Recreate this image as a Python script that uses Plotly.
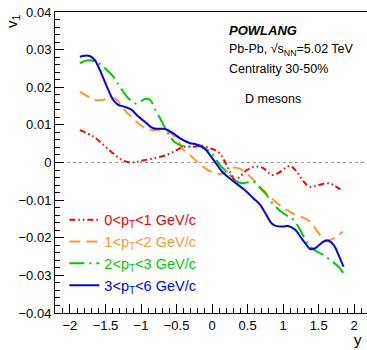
import plotly.graph_objects as go

# ---------------- data ----------------
red_x = [-1.86, -1.67, -1.53, -1.39, -1.25, -1.13, -1.01, -0.83, -0.64, -0.50, -0.40, -0.26, -0.145,
         -0.03, 0.04, 0.11, 0.18, 0.25, 0.32, 0.39, 0.49, 0.61, 0.72, 0.84, 0.93, 1.03, 1.10, 1.19,
         1.29, 1.37, 1.50, 1.62, 1.71, 1.83]
red_y = [0.0086, 0.0069, 0.0047, 0.0024, 0.0005, 0.0000, 0.0004, 0.0011, 0.0020, 0.0033, 0.0042,
         0.0042, 0.0045, 0.0038, 0.0033, 0.0024, 0.0002, -0.0024, -0.0046, -0.0038, -0.0020, -0.0011,
         -0.0015, -0.0033, -0.0028, -0.0015, -0.0009, -0.0024, -0.0051, -0.0064, -0.0060, -0.0055,
         -0.0060, -0.0075]

orange_x = [-1.86, -1.74, -1.65, -1.55, -1.44, -1.37, -1.30, -1.23, -1.13, -1.01, -0.87, -0.66, -0.55,
            -0.47, -0.40, -0.31, -0.19, -0.10, 0.02, 0.14, 0.22, 0.30, 0.37, 0.46, 0.56, 0.72, 0.89,
            1.05, 1.19, 1.30, 1.38, 1.50, 1.59, 1.66, 1.71, 1.78, 1.84]
orange_y = [0.0188, 0.0175, 0.0166, 0.0166, 0.0171, 0.0170, 0.0158, 0.0140, 0.0120, 0.0100, 0.0086,
            0.0086, 0.0073, 0.0055, 0.0033, 0.0020, -0.0002, -0.0015, -0.0027, -0.0030, -0.0022,
            -0.0014, -0.0015, -0.0024, -0.0042, -0.0073, -0.0104, -0.0126, -0.0140, -0.0148, -0.0157,
            -0.0188, -0.0206, -0.0206, -0.0202, -0.0193, -0.0184]

green_x = [-1.86, -1.74, -1.60, -1.48, -1.39, -1.32, -1.25, -1.18, -1.08, -1.00, -0.94, -0.87, -0.80,
           -0.73, -0.66, -0.59, -0.52, -0.38, -0.28, -0.19, -0.10, 0.0, 0.11, 0.23, 0.33, 0.42, 0.58,
           0.66, 0.75, 0.84, 1.00, 1.15, 1.29, 1.36, 1.46, 1.57, 1.66, 1.78, 1.85]
green_y = [0.0264, 0.0272, 0.0264, 0.0246, 0.0228, 0.0208, 0.0188, 0.0171, 0.0157, 0.0163, 0.0169,
           0.0166, 0.0140, 0.0117, 0.0091, 0.0069, 0.0053, 0.0042, 0.0043, 0.0047, 0.0038, 0.0024,
           -0.0007, -0.0029, -0.0048, -0.0055, -0.0051, -0.0065, -0.0082, -0.0106, -0.0135, -0.0153,
           -0.0197, -0.0219, -0.0235, -0.0246, -0.0259, -0.0277, -0.0295]

blue_x = [-1.86, -1.79, -1.72, -1.65, -1.55, -1.46, -1.39, -1.32, -1.23, -1.13, -1.06, -0.92, -0.83,
          -0.66, -0.55, -0.45, -0.31, -0.22, -0.10, 0.02, 0.14, 0.28, 0.46, 0.58, 0.68, 0.75, 0.84,
          0.91, 1.00, 1.07, 1.17, 1.26, 1.33, 1.38, 1.45, 1.57, 1.64, 1.71, 1.78, 1.85]
blue_y = [0.0281, 0.0284, 0.0283, 0.0272, 0.0233, 0.0193, 0.0166, 0.0153, 0.0148, 0.0140, 0.0126,
          0.0104, 0.0091, 0.0089, 0.0078, 0.0064, 0.0051, 0.0048, 0.0036, 0.0007, -0.0024, -0.0047,
          -0.0073, -0.0095, -0.0113, -0.0135, -0.0162, -0.0169, -0.0170, -0.0169, -0.0179, -0.0202,
          -0.0219, -0.0230, -0.0228, -0.0210, -0.0208, -0.0219, -0.0246, -0.0277]

labels = ["0<p<sub>T</sub><1 GeV/c", "1<p<sub>T</sub><2 GeV/c",
          "2<p<sub>T</sub><3 GeV/c", "3<p<sub>T</sub><6 GeV/c"]
colors = ["#ff0000", "#ff9933", "#00cc00", "#0000ff"]
dashes = ["6px,3px,1.5px,3px,1.5px,3px", "11px,6px", "15px,5px,2px,5px", "solid"]

FONT = "Liberation Sans, Arial, Helvetica, sans-serif"

fig = go.Figure()
series = [(red_x, red_y), (orange_x, orange_y), (green_x, green_y), (blue_x, blue_y)]
for (xs, ys), lab, col, dsh in zip(series, labels, colors, dashes):
    fig.add_trace(go.Scatter(
        x=xs, y=ys, mode="lines",
        line=dict(color=col, width=2, dash=dsh, shape="spline", smoothing=1.0),
        name=f'<span style="color:{col}">{lab}</span>',
    ))

# zero reference line
fig.add_shape(type="line", xref="paper", yref="y", x0=0, x1=1, y0=0, y1=0,
              line=dict(color="#999999", width=1, dash="dot"), layer="below")

fig.update_layout(
    width=367, height=350,
    margin=dict(l=55, r=0, t=12, b=37),
    paper_bgcolor="white", plot_bgcolor="white",
    font=dict(family=FONT, color="black", size=13),
    showlegend=True,
    legend=dict(x=0.03, y=0.363, xanchor="left", yanchor="top",
                bgcolor="rgba(0,0,0,0)", font=dict(size=14.5, family=FONT),
                traceorder="normal", itemwidth=30),
)
fig.update_xaxes(
    range=[-2.21, 2.18], showgrid=False, zeroline=False,
    showline=True, linecolor="black", linewidth=1, mirror=True,
    ticks="inside", ticklen=9, tickcolor="black", dtick=0.5, tick0=0,
    minor=dict(ticks="inside", ticklen=5, dtick=0.1, tickcolor="black"),
    tickfont=dict(size=13),
)
fig.update_yaxes(
    range=[-0.04, 0.04], showgrid=False, zeroline=False,
    showline=True, linecolor="black", linewidth=1, mirror=False,
    ticks="inside", ticklen=9, tickcolor="black", dtick=0.01, tick0=0,
    minor=dict(ticks="inside", ticklen=5, dtick=0.002, tickcolor="black"),
    tickfont=dict(size=13),
)

# axis titles
fig.add_annotation(text="v<sub>1</sub>", xref="paper", yref="paper", x=-0.138, y=1.0,
                   xanchor="center", yanchor="top", textangle=-90, showarrow=False,
                   font=dict(size=15))
fig.add_annotation(text="y", xref="paper", yref="paper", x=0.97, y=-0.088,
                   xanchor="center", yanchor="middle", showarrow=False, font=dict(size=15))

# text block
fig.add_annotation(text="<b><i>POWLANG</i></b>", xref="paper", yref="paper",
                   x=0.55, y=0.94, xanchor="left", yanchor="middle", showarrow=False,
                   font=dict(size=13))
fig.add_annotation(text="Pb-Pb, √s<sub>NN</sub>=5.02 TeV", xref="paper", yref="paper",
                   x=0.55, y=0.873, xanchor="left", yanchor="middle", showarrow=False,
                   font=dict(size=12.5))
fig.add_annotation(text="Centrality 30-50%", xref="paper", yref="paper",
                   x=0.55, y=0.81, xanchor="left", yanchor="middle", showarrow=False,
                   font=dict(size=12.5))
fig.add_annotation(text="D mesons", xref="paper", yref="paper",
                   x=0.602, y=0.71, xanchor="left", yanchor="middle", showarrow=False,
                   font=dict(size=12.5))

fig.write_html("out.html")
